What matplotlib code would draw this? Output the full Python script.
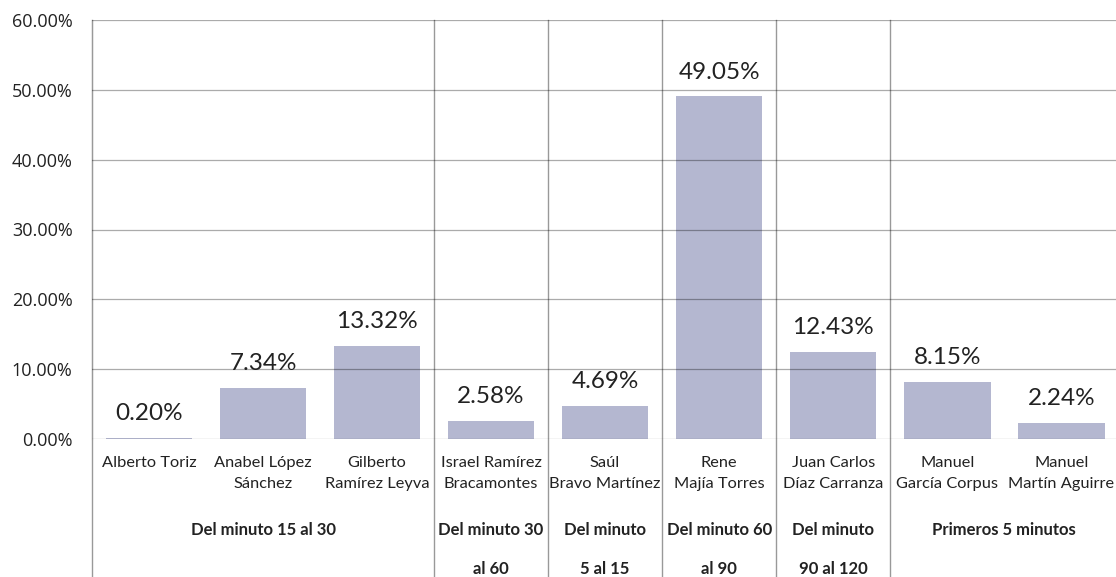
import matplotlib
matplotlib.use("Agg")
import matplotlib.pyplot as plt
from matplotlib.lines import Line2D
from matplotlib.ticker import FuncFormatter

names = ["Alberto Toriz", "Anabel López\nSánchez", "Gilberto\nRamírez Leyva",
         "Israel Ramírez\nBracamontes", "Saúl\nBravo Martínez", "Rene\nMajía Torres",
         "Juan Carlos\nDíaz Carranza", "Manuel\nGarcía Corpus", "Manuel\nMartín Aguirre"]
values = [0.20, 7.34, 13.32, 2.58, 4.69, 49.05, 12.43, 8.15, 2.24]
groups = ["Del minuto 15 al 30", "Del minuto 30\nal 60", "Del minuto\n5 al 15",
          "Del minuto 60\nal 90", "Del minuto\n90 al 120", "Primeros 5 minutos"]
group_sizes = [3, 1, 1, 1, 1, 2]

narrow = ["Lato", "DejaVu Sans"]

fig = plt.figure(figsize=(11.16, 5.77), dpi=100)
ax = fig.add_axes([92 / 1116, 1 - 439 / 577, 1 - 92 / 1116 + 0.002, 419 / 577])

x = list(range(len(values)))
ax.bar(x, values, width=0.76, color="#b4b7d0", zorder=2)
ax.set_xlim(-0.5, len(values) - 0.5)
ax.set_ylim(0, 60)
ax.set_yticks(range(0, 61, 10))
ax.yaxis.set_major_formatter(FuncFormatter(lambda v, p: f"{v:.2f}%"))
ax.tick_params(axis="y", length=0, pad=14, labelsize=13, labelcolor="#222222")
for lbl in ax.get_yticklabels():
    lbl.set_family("Open Sans")
ax.set_xticks([])
ax.grid(axis="y", color="black", alpha=0.33, linewidth=0.9, zorder=3)
ax.set_axisbelow(False)
for s in ["top", "right", "bottom"]:
    ax.spines[s].set_visible(False)
ax.spines["left"].set_color("#999999")

for xi, v in zip(x, values):
    ax.text(xi, v + 2.0, f"{v:.2f}%", ha="center", va="bottom", fontsize=17.5,
            family=narrow, color="#222222")

trans = ax.get_xaxis_transform()
for xi, name in zip(x, names):
    ax.text(xi, -0.04, name, transform=trans, ha="center", va="top",
            fontsize=11.8, family=narrow, color="#222222", linespacing=1.68)

# group separators and labels
line_kw = dict(color="#999999", linewidth=1.0, transform=trans, clip_on=False)
ax.add_line(Line2D([-0.5, -0.5], [1, -0.4], **line_kw))
start = 0
for g, n in zip(groups, group_sizes):
    end = start + n
    ax.add_line(Line2D([end - 0.5, end - 0.5], [1, -0.4], **line_kw))
    ax.text((start + end - 1) / 2, -0.197, g, transform=trans, ha="center", va="top",
            fontsize=12, family=narrow, fontweight="bold", color="#222222",
            linespacing=2.8)
    start = end

fig.savefig("out.png", dpi=100)
